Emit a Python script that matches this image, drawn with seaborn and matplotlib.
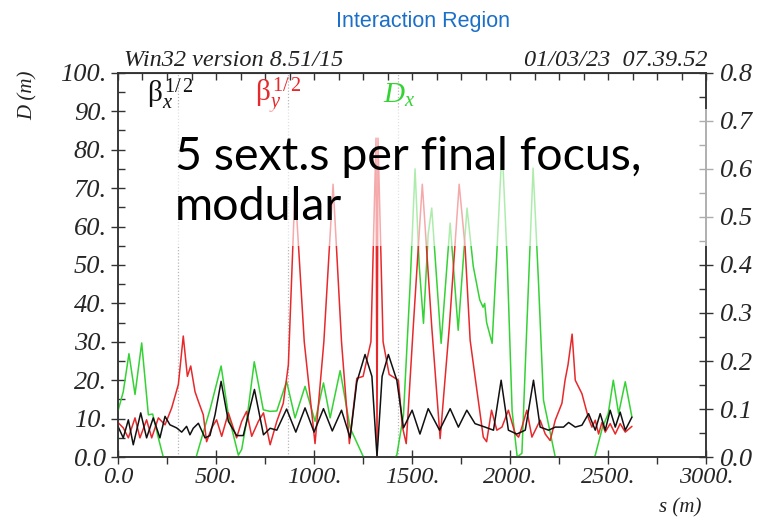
import matplotlib
matplotlib.use('Agg')
import numpy as np
import pandas as pd
import matplotlib.pyplot as plt
import seaborn as sns
from matplotlib.patches import Rectangle
from matplotlib.ticker import MultipleLocator

# -----------------------------
# DATA
# -----------------------------
# beta_x^(1/2)  (black)
s_bx = [0, 27, 53, 78, 116, 146, 180, 214, 240, 265, 299, 325, 350, 367, 384, 410, 444, 469, 495, 526,
        563, 605, 639, 696, 742, 776, 810, 860, 907, 954, 1000, 1048, 1093, 1140, 1184, 1218, 1260, 1295, 1316, 1321,
        1326, 1347, 1379, 1422, 1456, 1500, 1540, 1582, 1640, 1694, 1736, 1779, 1821, 1872, 1915, 1954, 1991, 2034, 2077, 2119,
        2153, 2196, 2230, 2272, 2298, 2332, 2366, 2400, 2434, 2459, 2485, 2510, 2536, 2561, 2587, 2621]
bx = [8, 5, 9.7, 3.2, 11.5, 5, 10.2, 5, 10.6, 8.4, 7.6, 6.5, 8, 5.8, 7.5, 8.8, 5, 5.6, 11, 19.7,
      9.3, 5.6, 5.6, 17.6, 5.8, 7.5, 7, 12.5, 6.5, 12.8, 6.5, 12.6, 6.8, 12.2, 5, 19.5, 26.7, 21, 4, 0.3,
      4, 21, 26.7, 20, 7.6, 12.2, 6, 12.6, 7, 12.6, 7.8, 12.2, 8.7, 7.8, 7, 20, 7, 6, 7, 20,
      7.8, 7, 7.8, 7.8, 9, 7.8, 8.3, 11.3, 7, 11.3, 7, 12.2, 7.8, 11.7, 7, 10.4]

# beta_y^(1/2)  (red)
s_by = [0, 27, 53, 87, 112, 146, 172, 206, 240, 274, 308, 333, 354, 371, 393, 410, 435, 452, 478, 503,
        529, 563, 588, 605, 631, 656, 682, 716, 742, 776, 810, 843, 869, 903, 950, 1005, 1050, 1097, 1140, 1180,
        1218, 1250, 1290, 1316, 1321, 1326, 1352, 1383, 1430, 1450, 1470, 1506, 1552, 1600, 1643, 1690, 1740, 1770, 1796, 1821,
        1863, 1880, 1905, 1932, 1958, 1991, 2026, 2043, 2060, 2085, 2111, 2153, 2179, 2204, 2230, 2264, 2280, 2295, 2316, 2332,
        2366, 2400, 2417, 2434, 2451, 2468, 2485, 2510, 2536, 2561, 2587, 2621]
by = [9, 7.6, 5, 10.2, 5, 9.7, 5, 10.2, 8.4, 12.8, 18.9, 31.5, 21, 23.7, 17, 14.5, 11, 4, 7.6, 9.7,
      5.4, 11.5, 7.6, 5, 9.3, 11.9, 5.4, 9.3, 11.5, 3.2, 9.3, 14, 24, 70, 30, 3.5, 30, 71, 30, 3.5,
      20.5, 21, 30, 83, 0.3, 83, 30, 21.5, 20, 8, 3.5, 34, 71, 34, 4.8, 34, 71, 54.8, 30.4, 20.9,
      5.2, 4, 12.2, 7, 7.8, 12.2, 6, 5.2, 7.8, 12.2, 5.2, 9.6, 6, 4.3, 9.6, 14, 20, 24, 32, 20,
      16.5, 10, 7.8, 9.6, 6, 9, 6.5, 8.7, 6, 8.7, 6.5, 8]

# D_x  (green)
s_dx = [0, 27, 56, 87, 121, 155, 177, 206, 231, 260, 330, 393, 427, 469, 526, 563, 614, 631, 656, 695,
        741, 775, 810, 860, 903, 954, 1005, 1048, 1082, 1133, 1184, 1252, 1300, 1380, 1422, 1456, 1490, 1515, 1536, 1558,
        1582, 1600, 1648, 1694, 1735, 1780, 1812, 1845, 1862, 1870, 1880, 1908, 1930, 1959, 1985, 2010, 2036, 2060, 2085, 2117,
        2145, 2170, 2230, 2300, 2400, 2434, 2470, 2500, 2526, 2553, 2587, 2621]
dx = [12, 17, 26.9, 16.3, 29.7, 11, 11.2, 5, 0, -3, -5, -1, 5, 12.3, 23.7, 11, 0.5, 2, 9.3, 24.8,
      12.3, 11.9, 12, 19.7, 10.2, 18.4, 9.3, 19.3, 10.2, 22.5, 7.6, 0, -4, -2, 0.5, 11, 45, 75, 50, 34.8,
      58, 64.8, 29.6, 60.9, 33, 64.8, 49.6, 40.9, 39, 40, 35, 29.6, 51, 80.9, 51, 12, 0, 1, 34, 75.2,
      45, 14.8, 0, -5, -3, 0.5, 7.6, 11.3, 20, 11.3, 19.6, 10.4]

# element markers (dotted verticals)
s_marks = [306, 867, 1429]

left_ticks = [0, 10, 20, 30, 40, 50, 60, 70, 80, 90, 100]
left_labels = ['0.0', '10.', '20.', '30.', '40.', '50.', '60.', '70.', '80.', '90.', '100.']
right_ticks = [0.0, 0.1, 0.2, 0.3, 0.4, 0.5, 0.6, 0.7, 0.8]
right_labels = ['0.0', '0.1', '0.2', '0.3', '0.4', '0.5', '0.6', '0.7', '0.8']
x_ticks = [0, 500, 1000, 1500, 2000, 2500, 3000]
x_labels = ['0.0', '500.', '1000.', '1500.', '2000.', '2500.', '3000.']

# -----------------------------
# STYLE
# -----------------------------
sns.set_style('ticks')
plt.rcParams['font.family'] = ['Liberation Serif', 'DejaVu Serif']
plt.rcParams['mathtext.fontset'] = 'custom'
plt.rcParams['mathtext.rm'] = 'Liberation Serif'
plt.rcParams['mathtext.it'] = 'Liberation Serif:italic'

BLACK = '#111111'
RED = '#e8292c'
GREEN = '#35d235'
AXC = '#333333'

fig = plt.figure(figsize=(7.66, 5.2), dpi=100)
ax = fig.add_axes([0.154, 0.121, 0.768, 0.739])

for s in s_marks:
    ax.axvline(s, color='#b8b8b8', lw=0.9, ls=(0, (1, 1.5)), zorder=1)

curves = [(s_dx, dx, GREEN), (s_by, by, RED), (s_bx, bx, BLACK)]
for xs, ys, col in curves:
    df = pd.DataFrame({'s': xs, 'v': ys})
    sns.lineplot(data=df, x='s', y='v', sort=False, estimator=None,
                 color=col, lw=1.1, ax=ax, zorder=3)

ax.set_xlim(0, 3000)
ax.set_ylim(0, 100)
ax.set_xlabel('')
ax.set_ylabel('')

ax.set_yticks(left_ticks)
ax.set_yticklabels(left_labels, fontstyle='italic', fontsize=19)
ax.yaxis.set_minor_locator(MultipleLocator(5))
ax.set_xticks(x_ticks)
ax.set_xticklabels(x_labels, fontstyle='italic', fontsize=17.5)
ax.xaxis.set_minor_locator(MultipleLocator(250))

ax.tick_params(axis='y', which='major', direction='inout', length=10, width=1, color=AXC, pad=3)
ax.tick_params(axis='y', which='minor', direction='in', length=5, width=1, color=AXC)
ax.tick_params(axis='x', which='major', direction='inout', length=10, width=1, color=AXC, pad=2)
ax.tick_params(axis='x', which='minor', direction='out', length=5, width=1, color=AXC)

for sp in ax.spines.values():
    sp.set_color(AXC)
    sp.set_linewidth(1.1)

# top ticks pointing inward
axt = ax.secondary_xaxis('top')
axt.set_xticks(np.arange(0, 3001, 125))
axt.set_xticklabels([])
axt.tick_params(direction='in', length=5, width=1, color=AXC)
axt.spines['top'].set_color(AXC)

ax2 = ax.twinx()
ax2.set_ylim(0, 0.8)
ax2.set_yticks(right_ticks)
ax2.set_yticklabels(right_labels, fontstyle='italic', fontsize=19)
ax2.yaxis.set_minor_locator(MultipleLocator(0.05))
ax2.tick_params(axis='y', which='major', direction='inout', length=10, width=1, color=AXC, pad=5)
ax2.tick_params(axis='y', which='minor', direction='in', length=5, width=1, color=AXC)
for sp in ax2.spines.values():
    sp.set_color(AXC)
    sp.set_linewidth(1.1)

# curve labels
ax.text(148, 92.2, r'$\mathrm{\beta}_{x}^{\,\mathit{1/\,2}}$', color=BLACK, fontsize=21, zorder=4)
ax.text(699, 92.2, r'$\mathrm{\beta}_{y}^{\,\mathit{1/\,2}}$', color=RED, fontsize=21, zorder=4)
ax.text(1352, 92.2, r'$D_{x}$', color=GREEN, fontsize=21, zorder=4)

# headers
fig.text(124 / 766, 1 - 66 / 520, 'Win32 version 8.51/15', fontstyle='italic', fontsize=17.5,
         ha='left', va='baseline', color='#222222')
fig.text(707 / 766, 1 - 66 / 520, '01/03/23  07.39.52', fontstyle='italic', fontsize=17.5,
         ha='right', va='baseline', color='#222222')
fig.text(423 / 766, 1 - 22 / 520, 'Interaction Region', family='Liberation Sans', fontsize=15.5,
         ha='center', va='center', color='#1a6fc8')

# axis names
fig.text(28 / 766, 1 - 95 / 520, 'D (m)', rotation=90, fontstyle='italic', fontsize=15,
         ha='center', va='center', color='#222222')
fig.text(680 / 766, 1 - 508 / 520, 's (m)', fontstyle='italic', fontsize=15,
         ha='center', va='center', color='#222222')

# semi-transparent slide text box laid over the plot
fig.add_artist(Rectangle((240, 55), 2830, 35.5, transform=ax.transData,
                         facecolor='white', edgecolor='none', alpha=0.6, zorder=5))
fig.text(175 / 766, 1 - 170 / 520, '5 sext.s per final focus,', family='Lato', fontsize=33.5,
         ha='left', va='baseline', color='black', zorder=6)
fig.text(175 / 766, 1 - 220 / 520, 'modular', family='Lato', fontsize=33.5,
         ha='left', va='baseline', color='black', zorder=6)

fig.savefig('out.png', dpi=100)
plt.close(fig)
